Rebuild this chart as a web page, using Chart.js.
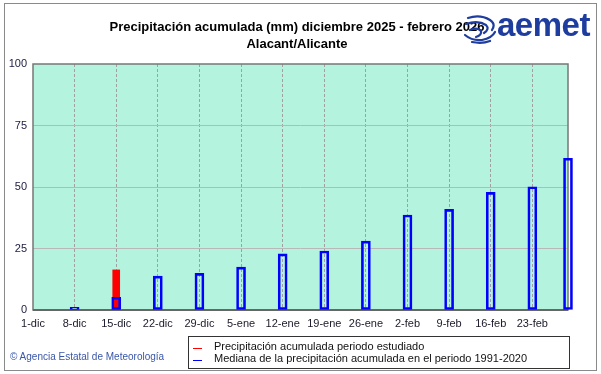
<!DOCTYPE html>
<html>
<head>
<meta charset="utf-8">
<script src="https://cdn.jsdelivr.net/npm/chart.js@4/dist/chart.umd.min.js"></script>
<style>
  body { margin: 0; background: #fff; font-family: Arial, "Liberation Sans", sans-serif; }
  #wrap { position: relative; width: 601px; height: 374px; overflow: hidden; }
  #frame { position: absolute; left: 4px; top: 3px; width: 591px; height: 366px; border: 1px solid #8a8a8a; }
  canvas { position: absolute; left: 0; top: 0; }
  .title { position: absolute; left: 0; width: 594px; text-align: center; font-weight: bold; font-size: 13px; color: #000; }
  #logo { position: absolute; left: 497px; top: 6px; font-size: 33px; font-weight: 900; color: #1e3d9e; letter-spacing: -0.5px; }
  #icon { position: absolute; left: 462px; top: 14px; }
  #copy { position: absolute; left: 10px; top: 351px; font-size: 10px; color: #3a56a8; }
  #legend { position: absolute; left: 188px; top: 336px; width: 380px; height: 31px; border: 1px solid #333; background: #fff; font-size: 11px; color: #111; }
  .row { position: absolute; left: 25px; white-space: nowrap; }
  .mark { position: absolute; left: 4px; width: 9px; height: 1px; }
</style>
</head>
<body>
<div id="wrap">
  <div id="frame"></div>
  <canvas id="chart" width="601" height="374"></canvas>
  <div class="title" style="top:19px">Precipitación acumulada (mm) diciembre 2025 - febrero 2026</div>
  <div class="title" style="top:36px">Alacant/Alicante</div>
  <svg id="icon" width="36" height="30" viewBox="0 0 36 30">
    <g fill="none" stroke="#1e3d9e" stroke-width="2.2" stroke-linecap="round">
      <path d="M6 4 Q18 0 28 6 Q34 10 30 16"/>
      <path d="M4 10 Q16 6 24 11 Q28 15 22 19"/>
      <path d="M8 16 Q16 13 19 17 Q20 21 14 23"/>
      <path d="M3 21 Q10 27 20 26 Q30 24 33 18"/>
      <path d="M10 28 Q20 30 28 27"/>
    </g>
  </svg>
  <div id="logo">aemet</div>
  <div id="copy">© Agencia Estatal de Meteorología</div>
  <div id="legend">
    <div class="mark" style="top:11px; background:#ff0000"></div>
    <div class="row" style="top:3px">Precipitación acumulada periodo estudiado</div>
    <div class="mark" style="top:23px; background:#0000ff"></div>
    <div class="row" style="top:15px">Mediana de la precipitación acumulada en el periodo 1991-2020</div>
  </div>
</div>
<script>
// x axis: days since 1 December 2025, one tick a week
const tickLabels = ["1-dic", "8-dic", "15-dic", "22-dic", "29-dic", "5-ene", "12-ene", "19-ene", "26-ene", "2-feb", "9-feb", "16-feb", "23-feb"];

// median accumulated precipitation 1991-2020 (mm)
const medianDays = [7, 14, 21, 28, 35, 42, 49, 56, 63, 70, 77, 84, 90];
const medianValues = [1.1, 5.2, 13.8, 14.9, 17.4, 22.8, 24.0, 28.0, 38.6, 40.9, 47.8, 50.1, 61.7];

// accumulated precipitation of the studied period (mm)
const observedDays = [14];
const observedValues = [16.3];

const toPoints = (xs, ys) => xs.map((x, i) => ({ x: x, y: ys[i] }));

// plot background + frame
const plotFrame = {
    id: 'plotFrame',
    beforeDraw(chart) {
        const { ctx, chartArea: a } = chart;
        ctx.save();
        ctx.fillStyle = '#b4f3de';
        ctx.fillRect(a.left, a.top, a.right - a.left, a.bottom - a.top);
        ctx.restore();
    },
    beforeDatasetsDraw(chart) {
        const { ctx, chartArea: a } = chart;
        ctx.save();
        ctx.strokeStyle = '#777';
        ctx.lineWidth = 1.5;
        ctx.strokeRect(a.left, a.top, a.right - a.left, a.bottom - a.top);
        ctx.strokeStyle = '#666';
        ctx.lineWidth = 2;
        ctx.beginPath();
        ctx.moveTo(a.left, a.bottom);
        ctx.lineTo(a.right, a.bottom);
        ctx.stroke();
        ctx.restore();
    }
};

new Chart(document.getElementById('chart'), {
    type: 'bar',
    data: {
        datasets: [
            {
                label: 'Mediana de la precipitación acumulada en el periodo 1991-2020',
                data: toPoints(medianDays, medianValues),
                backgroundColor: 'rgba(0,0,0,0)',
                borderColor: '#0000ff',
                borderWidth: 2,
                borderSkipped: false,
                barThickness: 9,
                grouped: false,
                clip: false,
                order: 1
            },
            {
                label: 'Precipitación acumulada periodo estudiado',
                data: toPoints(observedDays, observedValues),
                backgroundColor: '#ff0000',
                borderWidth: 0,
                barThickness: 7,
                grouped: false,
                order: 2
            }
        ]
    },
    options: {
        responsive: false,
        animation: false,
        devicePixelRatio: 1,
        layout: { padding: { top: 64, right: 33, left: 0, bottom: 0 } },
        plugins: {
            legend: { display: false },
            tooltip: { enabled: false }
        },
        scales: {
            x: {
                type: 'linear',
                offset: false,
                min: 0,
                max: 90,
                afterFit: (s) => { s.height = 64; },
                ticks: {
                    stepSize: 7,
                    autoSkip: false,
                    maxRotation: 0,
                    padding: 7,
                    color: '#1a1a2a',
                    font: { family: 'Arial, "Liberation Sans"', size: 11 },
                    callback: (v) => tickLabels[v / 7]
                },
                grid: {
                    offset: false,
                    drawTicks: false,
                    lineWidth: 1,
                    color: (c) => (c.tick && c.tick.value === 0) ? 'rgba(0,0,0,0)' : '#a0a0a0'
                },
                border: { display: false, dash: [3, 2] }
            },
            y: {
                min: 0,
                max: 100,
                afterFit: (s) => { s.width = 33; },
                ticks: {
                    stepSize: 25,
                    padding: 6,
                    color: '#1a1a40',
                    font: { family: 'Arial, "Liberation Sans"', size: 11 }
                },
                grid: {
                    drawTicks: false,
                    color: (c) => (c.tick && (c.tick.value === 0 || c.tick.value === 100)) ? 'rgba(0,0,0,0)' : '#b8b8b8'
                },
                border: { display: false }
            }
        }
    },
    plugins: [plotFrame]
});
</script>
</body>
</html>
